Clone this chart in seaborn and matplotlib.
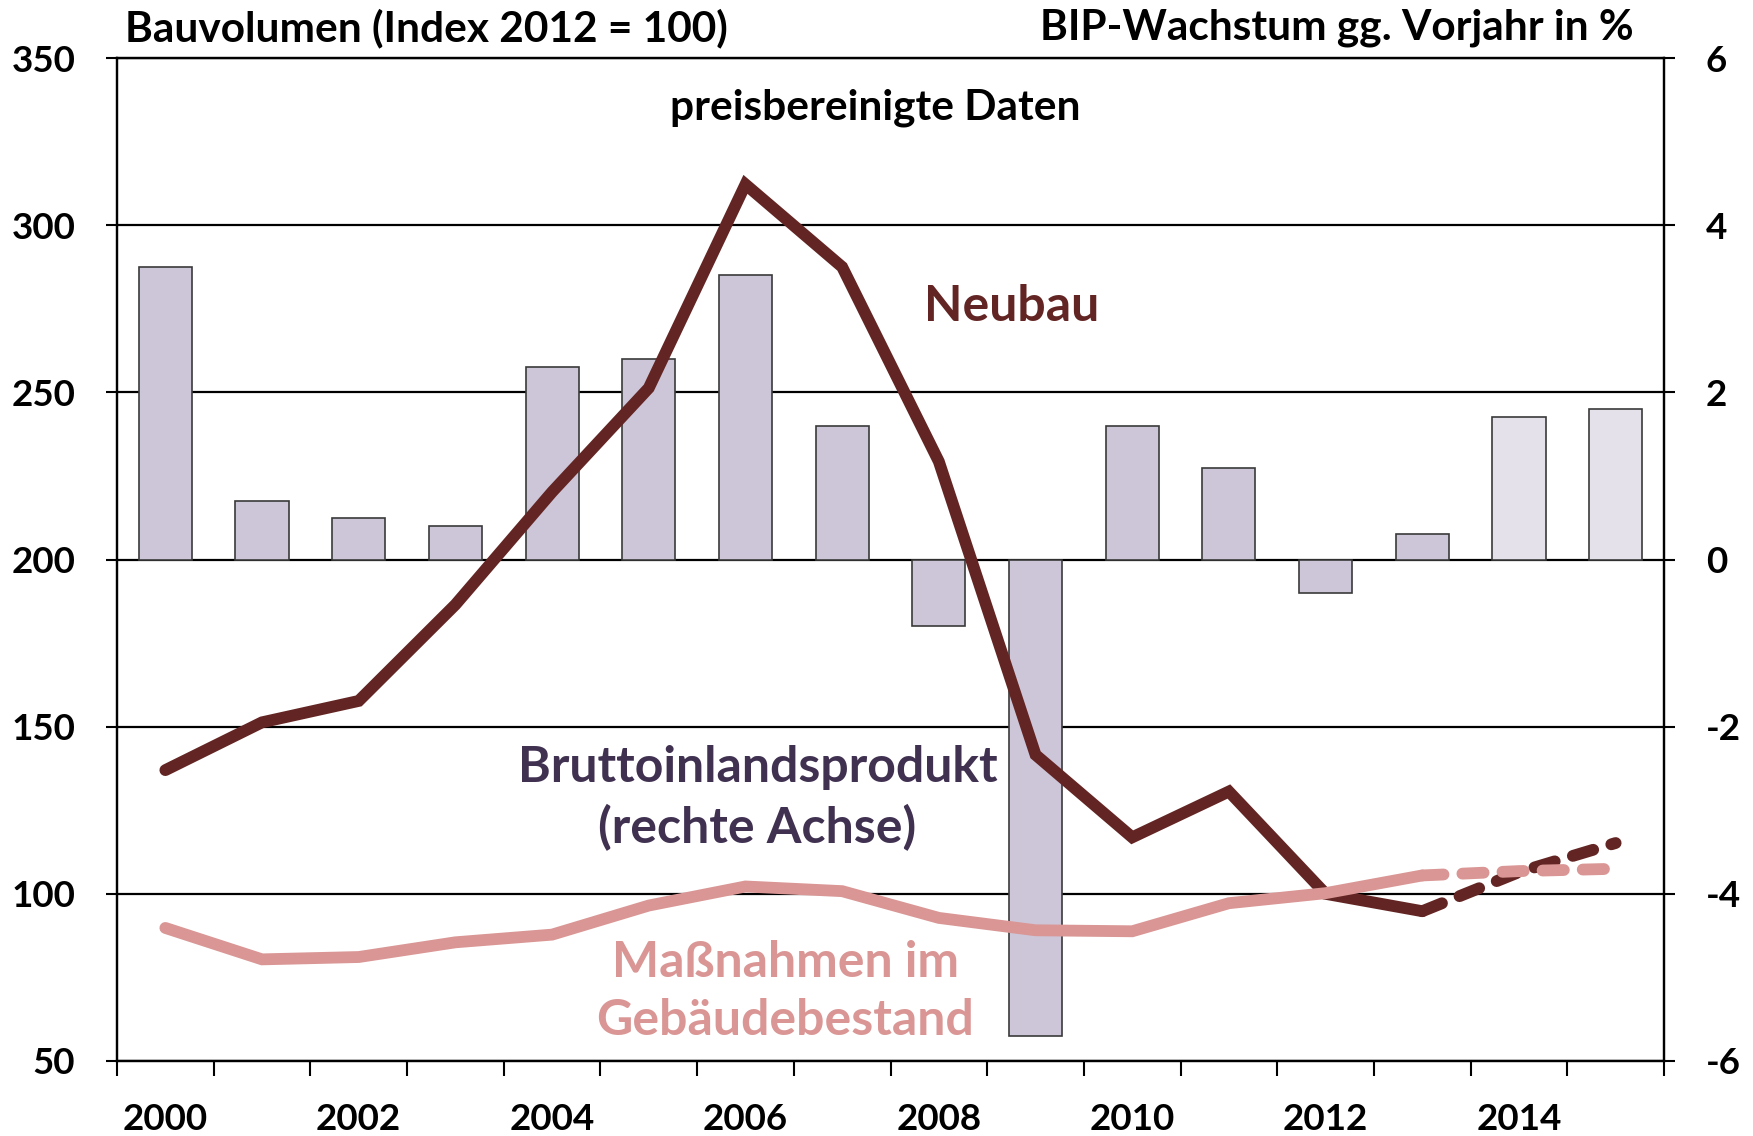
import numpy as np
import matplotlib.pyplot as plt
import seaborn as sns

# DATA
years = [str(y) for y in range(2000, 2016)]
neubau = [137, 151.3, 157.7, 186.5, 220.2, 251.3, 312.2, 287.5, 229.3, 141.6,
          116.9, 130.6, 100.0, 94.8, 106.5, 115.2]
massnahmen = [89.8, 80.4, 81.1, 85.5, 87.8, 96.5, 102.2, 100.8, 92.8, 89.1,
              88.8, 97.2, 100.2, 105.5, 106.8, 107.5]
bip = [3.5, 0.7, 0.5, 0.4, 2.3, 2.4, 3.4, 1.6, -0.8, -5.7,
       1.6, 1.1, -0.4, 0.3, 1.7, 1.8]
forecast_from = 13  # 2013 onward dashed / lighter bars
xlabels = ['2000', '', '2002', '', '2004', '', '2006', '', '2008', '', '2010', '', '2012', '', '2014', '']

# STYLE
sns.set_theme(style="white")
plt.rcParams['font.family'] = ['Lato', 'DejaVu Sans']
plt.rcParams['font.weight'] = 'bold'
plt.rcParams['text.color'] = 'black'
plt.rcParams['xtick.color'] = 'black'
plt.rcParams['ytick.color'] = 'black'

col_neubau = '#632523'
col_mass = '#D99694'
col_bip_text = '#403151'
bar_cols = ['#CCC3DC' if i < 14 else '#E4DFEC' for i in range(len(years))]

fig = plt.figure(figsize=(17.53, 11.36), dpi=100)
ax = fig.add_axes([117 / 1753, 1 - 1061 / 1136, 1547 / 1753, 1003 / 1136])
ax2 = ax.twinx()

# --- BARS: GDP growth (right axis) ---
sns.barplot(x=years, y=bip, hue=years, palette=bar_cols, legend=False, order=years,
            width=0.55, edgecolor='#3A3A3A', linewidth=1.2, ax=ax2, zorder=3)
ax2.set_ylim(-6, 6)
ax2.set_yticks(np.arange(-6, 7, 2))
ax2.set_yticklabels([str(v) for v in range(-6, 7, 2)])
ax2.yaxis.grid(True, color='black', linewidth=1.6)
ax2.set_axisbelow(True)
ax2.set_ylabel('')
ax2.set_xlabel('')

# --- LINES: construction volume (left axis) ---
pos = np.arange(len(years))
k = forecast_from
lw = 8.5
sns.lineplot(x=pos[:k + 1], y=neubau[:k + 1], color=col_neubau, linewidth=lw, ax=ax,
             solid_capstyle='round', solid_joinstyle='miter')
sns.lineplot(x=pos[k:], y=neubau[k:], color=col_neubau, linewidth=lw, ax=ax,
             linestyle=(0, (1.8, 1.6)), dash_capstyle='round')
sns.lineplot(x=pos[:k + 1], y=massnahmen[:k + 1], color=col_mass, linewidth=lw, ax=ax,
             solid_capstyle='round', solid_joinstyle='miter')
sns.lineplot(x=pos[k:], y=massnahmen[k:], color=col_mass, linewidth=lw, ax=ax,
             linestyle=(0, (1.8, 1.6)), dash_capstyle='round')
ax.set_ylim(50, 350)
ax.set_yticks(np.arange(50, 351, 50))
ax.set_xlim(-0.5, len(years) - 0.5)
ax.set_zorder(ax2.get_zorder() + 1)
ax.patch.set_visible(False)
ax.grid(False)

# x ticks at category boundaries, labels at centres
ax.set_xticks(np.arange(-0.5, len(years), 1))
ax.set_xticklabels([])
ax.set_xticks(pos, minor=True)
ax.set_xticklabels(xlabels, minor=True)
ax.tick_params(axis='x', which='major', direction='out', length=11, width=1.5, color='black', bottom=True)
ax.tick_params(axis='x', which='minor', length=0, pad=30, labelsize=26.5, labelcolor='black')
ax.tick_params(axis='y', direction='out', length=8, width=1.5, color='black', left=True, pad=22,
               labelsize=26.5, labelcolor='black')
ax2.tick_params(axis='y', direction='out', length=8, width=1.5, color='black', right=True, pad=22,
                labelsize=26.5, labelcolor='black')
ax2.tick_params(axis='x', bottom=False, labelbottom=False)

for a in (ax, ax2):
    for s in a.spines.values():
        s.set_color('black')
        s.set_linewidth(1.6)
    a.spines['top'].set_visible(True)

# --- TEXT ---
fig.text(125 / 1753, 1 - 28 / 1136, 'Bauvolumen (Index 2012 = 100)', ha='left', va='center',
         fontsize=30.5, fontweight='bold', color='black')
fig.text(1634 / 1753, 1 - 28 / 1136, 'BIP-Wachstum gg. Vorjahr in %', ha='right', va='center',
         fontsize=30.5, fontweight='bold', color='black')
ax.text(0.490, 0.950, 'preisbereinigte Daten', transform=ax.transAxes, ha='center', va='center',
        fontsize=30.5, fontweight='bold', color='black')
ax.text(0.5785, 0.752, 'Neubau', transform=ax.transAxes, ha='center', va='center',
        fontsize=36, fontweight='bold', color=col_neubau)
ax.text(0.414, 0.262, 'Bruttoinlandsprodukt\n(rechte Achse)', transform=ax.transAxes, ha='center',
        va='center', fontsize=36, fontweight='bold', color=col_bip_text, linespacing=1.35)
ax.text(0.432, 0.069, 'Maßnahmen im\nGebäudebestand', transform=ax.transAxes, ha='center',
        va='center', fontsize=36, fontweight='bold', color=col_mass, linespacing=1.35)

plt.savefig('out.png', dpi=100)
